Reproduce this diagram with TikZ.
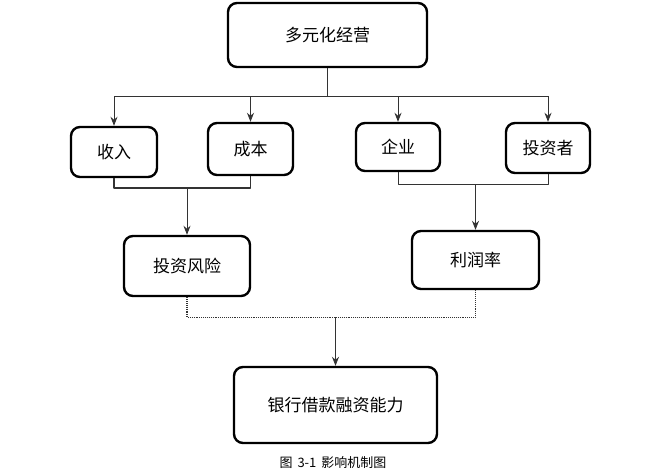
\documentclass[tikz,border=0pt]{standalone}
\usepackage{fontspec}
\newfontfamily\cjk{Noto Sans CJK SC}
\usetikzlibrary{arrows.meta}

\begin{document}
\begin{tikzpicture}[x=1pt,y=-1pt,>={Stealth[length=9pt,width=7pt]}, line join=round,
    box/.style={draw, line width=2.4pt, rounded corners=9pt, inner sep=0pt,
        font=\cjk\fontsize{17}{19}\selectfont},
    link/.style={draw=black!80, line width=0.9pt}]
    \useasboundingbox (0,0) rectangle (670,475);
    % boxes
    \node[box, minimum width=199pt, minimum height=64pt] (jingying) at (327.5,35) {多元化经营};
    \node[box, minimum width=86pt, minimum height=50pt] (shouru) at (114,152) {收入};
    \node[box, minimum width=85pt, minimum height=52pt] (chengben) at (250.5,149) {成本};
    \node[box, minimum width=84pt, minimum height=48pt] (qiye) at (398,147) {企业};
    \node[box, minimum width=84pt, minimum height=50pt] (touzizhe) at (548,148) {投资者};
    \node[box, minimum width=126pt, minimum height=60pt] (fengxian) at (187,266) {投资风险};
    \node[box, minimum width=127pt, minimum height=58pt] (lirun) at (475.5,260) {利润率};
    \node[box, minimum width=203pt, minimum height=76pt] (nengli) at (335.5,405) {银行借款融资能力};
    \node[font=\cjk\fontsize{13}{15}\selectfont] (tiname) at (333,463)
        {图\hspace{5pt}3-1\hspace{5pt}影响机制图};
    % connectors
    \draw[link] (jingying.south) -- ++(0,28) coordinate (fen);
    \draw[link] (fen -| shouru) -- (fen -| touzizhe);
    \foreach \n in {shouru,chengben,qiye,touzizhe}
        \draw[link,->] (fen -| \n) -- (\n.north);
    \draw[link, line width=1.6pt] (shouru.south) -- ++(0,10) coordinate (he1) -| (chengben.south);
    \draw[link,->] (he1 -| fengxian) -- (fengxian.north);
    \draw[link] (qiye.south) -- ++(0,12) coordinate (he2) -| (touzizhe.south);
    \draw[link,->] (he2 -| lirun) -- (lirun.north);
    \draw[link, densely dotted, line width=1.2pt] (fengxian.south) -- ++(0,20) coordinate (he3) -| (lirun.south);
    \draw[link,->] (he3 -| nengli) -- (nengli.north);
\end{tikzpicture}
\end{document}
